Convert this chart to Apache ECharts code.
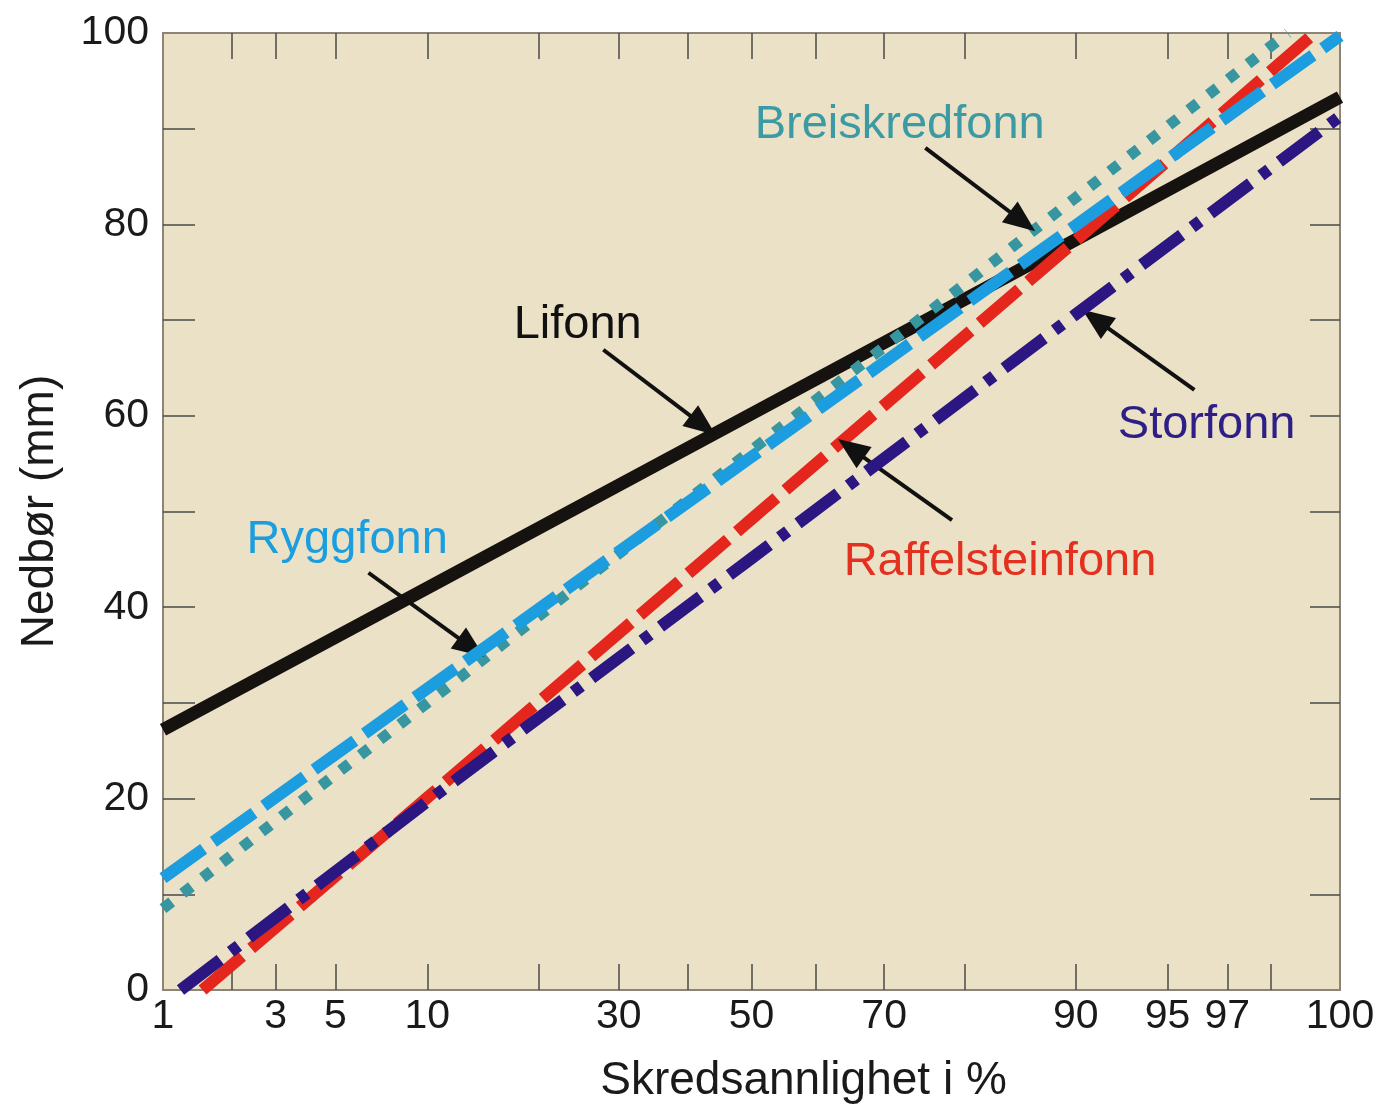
<!DOCTYPE html>
<html><head><meta charset="utf-8">
<script src="https://cdn.jsdelivr.net/npm/echarts@6/dist/echarts.min.js"></script>
<style>html,body{margin:0;padding:0;background:#fff}#c{width:1376px;height:1108px}</style>
</head><body><div id="c"></div>
<script>
// ---- data (x in exceedance probability %, y in mm) ----
const xTickLabels = ['1','3','5','10','30','50','70','90','95','97','100'];
const xLabelProbs = [1,3,5,10,30,50,70,90,95,97,99];
const xTickProbs = [2,3,5,10,20,30,40,50,60,70,80,90,95,97,98];
const yLabelValues = [0,20,40,60,80,100];
const yTickValues = [10,20,30,40,50,60,70,80,90];

const lifonn          = [[1,27.2],[10,42.0],[50,60.2],[90,78.4],[99,93.3]];
const breiskredfonn   = [[1,8.5],[10,30.0],[50,56.4],[90,82.8],[98.3,100]];
const raffelsteinfonn = [[1.5,0],[10,20.1],[50,49.2],[90,78.3],[98.7,100]];
const ryggfonn        = [[1,11.7],[10,31.5],[50,55.7],[90,79.9],[99,99.7]];
const storfonn        = [[1.2,0],[10,19.7],[50,45.1],[90,70.6],[99,91.3]];

// annotation anchors: [label point, arrow start, arrow end] in (%, mm)
const lifonnNote          = [[24.6,69.5],[27.9,66.9],[42.4,59.0]];
const breiskredfonnNote   = [[72.1,90.4],[75.4,88.0],[85.8,80.3]];
const ryggfonnNote        = [[5.5,47.0],[6.5,43.6],[13.4,35.8]];
const storfonnNote        = [[96.4,59.0],[96.0,62.7],[91.3,70.1]];
const raffelsteinfonnNote = [[83.7,44.7],[78.6,49.1],[65.3,56.6]];

// ---- normal probability scale ----
function probit(p){
 const a=[-3.969683028665376e+01,2.209460984245205e+02,-2.759285104469687e+02,1.383577518672690e+02,-3.066479806614716e+01,2.506628277459239e+00];
 const b=[-5.447609879822406e+01,1.615858368580409e+02,-1.556989798598866e+02,6.680131188771972e+01,-1.328068155288572e+01];
 const c=[-7.784894002430293e-03,-3.223964580411365e-01,-2.400758277161838e+00,-2.549732539343734e+00,4.374664141464968e+00,2.938163982698783e+00];
 const d=[7.784695709041462e-03,3.224671290700398e-01,2.445134137142996e+00,3.754408661907416e+00];
 const pl=0.02425, ph=1-pl; let q,r;
 if(p<pl){q=Math.sqrt(-2*Math.log(p));return (((((c[0]*q+c[1])*q+c[2])*q+c[3])*q+c[4])*q+c[5])/((((d[0]*q+d[1])*q+d[2])*q+d[3])*q+1);}
 if(p<=ph){q=p-0.5;r=q*q;return (((((a[0]*r+a[1])*r+a[2])*r+a[3])*r+a[4])*r+a[5])*q/(((((b[0]*r+b[1])*r+b[2])*r+b[3])*r+b[4])*r+1);}
 q=Math.sqrt(-2*Math.log(1-p));return -(((((c[0]*q+c[1])*q+c[2])*q+c[3])*q+c[4])*q+c[5])/((((d[0]*q+d[1])*q+d[2])*q+d[3])*q+1);
}
const X = p => probit(p/100);
const pt = ([p,v]) => [X(p), v];
const xMin = X(1), xMax = X(99);
const FONT = "'Liberation Sans', Arial, Helvetica, sans-serif";

function makeSeries(name, data, note, color, textColor, lineStyle, z){
  return {
    type:'line', name, z, silent:true, animation:false, symbol:'none', showSymbol:false,
    data: data.map(pt),
    lineStyle: Object.assign({color, width:12, cap:'butt', join:'miter'}, lineStyle),
    markLine:{
      silent:true, animation:false, symbol:['none','triangle'], symbolSize:[26,32],
      label:{show:false}, emphasis:{disabled:true},
      lineStyle:{color:'#111', width:4, type:'solid'},
      itemStyle:{color:'#111'},
      data:[[{coord:pt(note[1])},{coord:pt(note[2])}]]
    },
    markPoint:{
      silent:true, animation:false, symbol:'rect', symbolSize:1,
      itemStyle:{color:'rgba(0,0,0,0)'},
      label:{show:true, position:'inside', formatter:name, color:textColor, fontSize:47, fontFamily:FONT},
      data:[{coord:pt(note[0])}]
    }
  };
}

const chart = echarts.init(document.getElementById('c'), null, {renderer:'canvas'});
const xLabelVals = xLabelProbs.map(X);
const tickStyle = {color:'#4a4a4a', width:1.5};
chart.setOption({
  backgroundColor:'#fff',
  animation:false,
  grid:{left:163, right:36, top:33, bottom:118, show:true, backgroundColor:'#ebe1c6', borderColor:'#8b8477', borderWidth:2, containLabel:false, outerBoundsMode:'none'},
  xAxis:[
    {type:'value', position:'bottom', min:xMin, max:xMax,
     name:'Skredsannlighet i %', nameLocation:'middle', nameGap:68,
     nameTextStyle:{fontSize:46, color:'#1a1a1a', fontFamily:FONT, padding:[0,0,0,104]},
     axisLine:{show:false, onZero:false}, splitLine:{show:false},
     axisTick:{show:true, inside:true, length:26, lineStyle:tickStyle, customValues:xTickProbs.map(X)},
     axisLabel:{show:true, customValues:xLabelVals, showMinLabel:true, showMaxLabel:true, hideOverlap:false,
       fontSize:41, color:'#1a1a1a', fontFamily:FONT, margin:6,
       formatter:(v)=>{let bi=0,bd=1e9;xLabelVals.forEach((lv,i)=>{const dd=Math.abs(lv-v);if(dd<bd){bd=dd;bi=i;}});return xTickLabels[bi];}}
    },
    {type:'value', position:'top', min:xMin, max:xMax,
     axisLine:{show:false, onZero:false}, splitLine:{show:false}, axisLabel:{show:false},
     axisTick:{show:true, inside:true, length:26, lineStyle:tickStyle, customValues:xTickProbs.map(X)}}
  ],
  yAxis:[
    {type:'value', position:'left', min:0, max:100,
     name:'Nedbør (mm)', nameLocation:'middle', nameGap:100, nameRotate:90,
     nameTextStyle:{fontSize:46, color:'#1a1a1a', fontFamily:FONT},
     axisLine:{show:false, onZero:false}, splitLine:{show:false},
     axisTick:{show:true, inside:true, length:32, lineStyle:tickStyle, customValues:yTickValues},
     axisLabel:{show:true, customValues:yLabelValues, showMinLabel:true, showMaxLabel:true,
       fontSize:41, color:'#1a1a1a', fontFamily:FONT, margin:14}},
    {type:'value', position:'right', min:0, max:100,
     axisLine:{show:false, onZero:false}, splitLine:{show:false}, axisLabel:{show:false},
     axisTick:{show:true, inside:true, length:30, lineStyle:tickStyle, customValues:yTickValues}}
  ],
  series:[
    makeSeries('Lifonn', lifonn, lifonnNote, '#151210', '#111111', {type:'solid', width:13}, 2),
    makeSeries('Breiskredfonn', breiskredfonn, breiskredfonnNote, '#3896a0', '#3b9aa3', {type:[11,14], width:11}, 3),
    makeSeries('Raffelsteinfonn', raffelsteinfonn, raffelsteinfonnNote, '#e5261c', '#e3301f', {type:[52,12]}, 4),
    makeSeries('Ryggfonn', ryggfonn, ryggfonnNote, '#1b9ddf', '#1a9ee0', {type:[50,12]}, 5),
    makeSeries('Storfonn', storfonn, storfonnNote, '#2b1682', '#2d1f85', {type:[50,13,10,13]}, 6)
  ]
});
</script></body></html>
